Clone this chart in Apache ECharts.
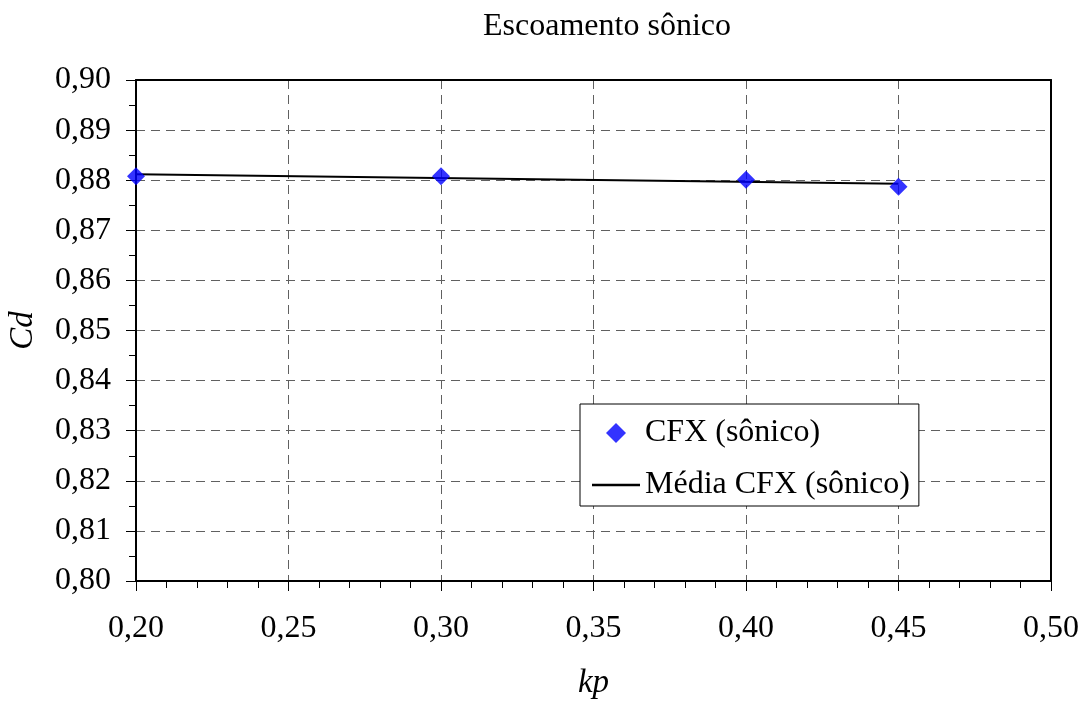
<!DOCTYPE html>
<html><head><meta charset="utf-8">
<script src="https://cdn.jsdelivr.net/npm/echarts@6/dist/echarts.min.js"></script>
<style>html,body{margin:0;padding:0;background:#fff}#c{width:1090px;height:702px}</style>
</head><body><div id="c"></div>
<script>
const kp = [0.20, 0.30, 0.40, 0.45];
const cdCFX = [0.8808, 0.8808, 0.8801, 0.8787];
const meanX = [0.20, 0.45];
const meanCd = [0.8812, 0.8793];
const titleText = 'Escoamento sônico';
const seriesNames = ['CFX (sônico)', 'Média CFX (sônico)'];
const FONT = '"Liberation Serif","Times New Roman",serif';
const fmt = v => v.toFixed(2).replace('.', ',');
const DASH = {color: '#606060', type: [9, 6], width: 1};

const chart = echarts.init(document.getElementById('c'), null, {renderer: 'canvas'});
chart.setOption({
  animation: false,
  backgroundColor: '#fff',
  title: {text: titleText, left: 602, top: 6, textAlign: 'center',
    textStyle: {fontFamily: FONT, fontSize: 32, fontWeight: 'normal', color: '#000'}},
  grid: {left: 136, top: 80, right: 39, bottom: 121, containLabel: false, outerBoundsMode: 'none'},
  legend: {
    orient: 'vertical', left: 580, top: 404,
    backgroundColor: '#fff', borderColor: '#000', borderWidth: 1,
    padding: [13, 9, 5, 12], itemGap: 20, itemWidth: 48, itemHeight: 20,
    symbolKeepAspect: true,
    textStyle: {fontFamily: FONT, fontSize: 32, color: '#000'},
    data: [
      {name: seriesNames[0], icon: 'path://M0,1 L1,0 L2,1 L1,2 Z', itemStyle: {color: '#0000ff'}},
      {name: seriesNames[1], icon: 'path://M0,0 L48,0 L48,2.5 L0,2.5 Z', itemStyle: {color: '#000'}}
    ]
  },
  xAxis: [{
    type: 'value', min: 0.20, max: 0.50, interval: 0.05,
    name: 'kp', nameLocation: 'middle', nameGap: 86,
    nameTextStyle: {fontFamily: FONT, fontSize: 33, fontStyle: 'italic', color: '#000'},
    axisLine: {show: true, lineStyle: {color: '#000', width: 2}},
    axisTick: {show: true, inside: false, length: 10, lineStyle: {color: '#000', width: 1}},
    minorTick: {show: true, splitNumber: 5, length: 7, lineStyle: {color: '#000', width: 1}},
    splitLine: {show: true, lineStyle: DASH},
    axisLabel: {margin: 32, formatter: fmt, fontFamily: FONT, fontSize: 32, color: '#000'}
  }, {
    type: 'value', position: 'top', min: 0.20, max: 0.50, interval: 0.05,
    axisLine: {show: true, lineStyle: {color: '#000', width: 2}},
    axisTick: {show: false}, axisLabel: {show: false}, splitLine: {show: false}
  }],
  yAxis: [{
    type: 'value', min: 0.80, max: 0.90, interval: 0.01,
    name: 'Cd', nameLocation: 'middle', nameGap: 96, nameRotate: 90,
    nameTextStyle: {fontFamily: FONT, fontSize: 33, fontStyle: 'italic', color: '#000'},
    axisLine: {show: true, lineStyle: {color: '#000', width: 2}},
    axisTick: {show: true, inside: false, length: 10, lineStyle: {color: '#000', width: 1}},
    minorTick: {show: true, splitNumber: 2, length: 7, lineStyle: {color: '#000', width: 1}},
    splitLine: {show: true, lineStyle: DASH},
    axisLabel: {margin: 25, formatter: fmt, fontFamily: FONT, fontSize: 32, color: '#000'}
  }, {
    type: 'value', position: 'right', min: 0.80, max: 0.90, interval: 0.01,
    axisLine: {show: true, lineStyle: {color: '#000', width: 2}},
    axisTick: {show: false}, axisLabel: {show: false}, splitLine: {show: false}
  }],
  series: [
    {name: seriesNames[1], type: 'line', data: meanX.map((x, i) => [x, meanCd[i]]),
      symbol: 'none', lineStyle: {color: '#000', width: 2}, itemStyle: {color: '#000'}, z: 2},
    {name: seriesNames[0], type: 'scatter', data: kp.map((x, i) => [x, cdCFX[i]]),
      symbol: 'diamond', symbolSize: 18, itemStyle: {color: '#0000ff'}, z: 3}
  ]
});
</script></body></html>
